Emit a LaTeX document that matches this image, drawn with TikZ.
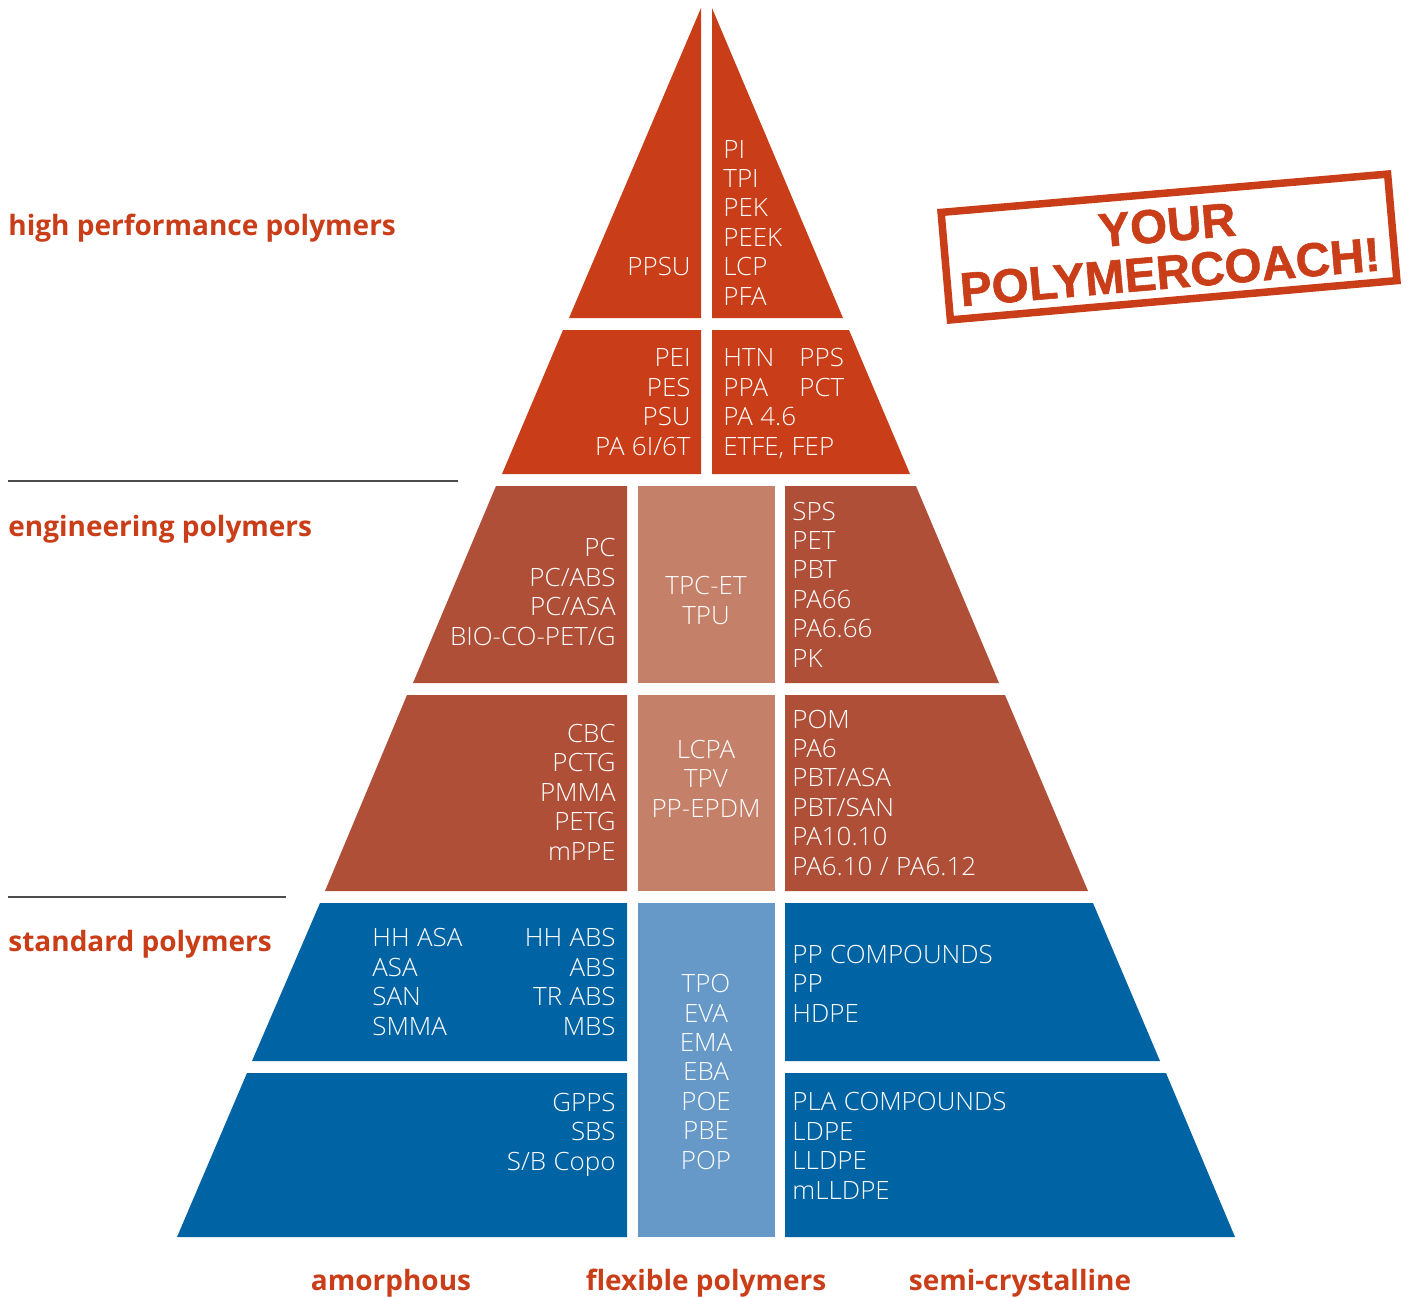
\documentclass[tikz,border=0pt]{standalone}
\usepackage{fontspec}
\setmainfont{Open Sans}
\newfontfamily\lightfont[WordSpace=1.1,FakeStretch=1.03]{Open Sans Light}
\newfontfamily\stampfont[BoldFeatures={FakeBold=1.2}]{Liberation Sans}
\definecolor{hotred}{HTML}{C93D18}
\definecolor{brick}{HTML}{B04F38}
\definecolor{lightbrick}{HTML}{C58069}
\definecolor{deepblue}{HTML}{0063A3}
\definecolor{lightblue}{HTML}{6699C8}
\tikzset{
	lst/.style={inner sep=0pt, text=white, font=\lightfont\fontsize{12.6}{14.68}\selectfont},
	lstL/.style={lst, anchor=base west, align=left},
	lstR/.style={lst, anchor=base east, align=right},
	lstC/.style={lst, anchor=base, align=center},
	grp/.style={inner sep=0pt, text=hotred, font=\fontsize{14}{17}\selectfont\bfseries},
	stamp/.style={text=hotred, rotate=4.9, inner sep=0pt, font=\stampfont\fontsize{23.8}{26}\selectfont\bfseries},
	rule/.style={draw=black!70, line width=0.75pt},
}
\begin{document}
\begin{tikzpicture}[x=0.5pt,y=-0.5pt]
	\useasboundingbox (0,0) rectangle (1413,1297);
	\fill[hotred] (701,8) -- (701,318) -- (569,318) -- cycle;
	\fill[hotred] (712,8) -- (712,318) -- (843,318) -- cycle;
	\fill[hotred] (563,330) -- (701,330) -- (701,474) -- (502,474) -- cycle;
	\fill[hotred] (712,330) -- (849,330) -- (910,474) -- (712,474) -- cycle;
	\fill[brick] (496,486) -- (627,486) -- (627,683) -- (413,683) -- cycle;
	\fill[lightbrick] (638,486) rectangle (775,683);
	\fill[brick] (785,486) -- (916,486) -- (999,683) -- (785,683) -- cycle;
	\fill[brick] (407,695) -- (627,695) -- (627,891) -- (325,891) -- cycle;
	\fill[lightbrick] (638,695) rectangle (775,891);
	\fill[brick] (785,695) -- (1005,695) -- (1088,891) -- (785,891) -- cycle;
	\fill[deepblue] (320,903) -- (627,903) -- (627,1061) -- (252,1061) -- cycle;
	\fill[deepblue] (247,1073) -- (627,1073) -- (627,1237) -- (177,1237) -- cycle;
	\fill[lightblue] (638,903) rectangle (775,1237);
	\fill[deepblue] (785,903) -- (1093,903) -- (1160,1061) -- (785,1061) -- cycle;
	\fill[deepblue] (785,1073) -- (1166,1073) -- (1235,1237) -- (785,1237) -- cycle;
	\coordinate (ruleA) at (8,481);
	\coordinate (ruleAend) at (458,481);
	\coordinate (ruleB) at (8,897);
	\coordinate (ruleBend) at (286,897);
	\draw[rule] (ruleA) -- (ruleAend);
	\draw[rule] (ruleB) -- (ruleBend);
	\node[lstR] (ppsu) at (691,275) {PPSU};
	\node[lstL] (peek) at (723,305) {PI\\TPI\\PEK\\PEEK\\LCP\\PFA};
	\node[lstR] (pei) at (691,455) {PEI\\PES\\PSU\\PA 6I/6T};
	\node[lstL] (htn) at (723,455) {HTN\\PPA\\PA 4.6\\ETFE, FEP};
	\node[lstL] (pps) at (799,396) {PPS\\PCT};
	\node[lstR] (pc) at (616,645) {PC\\PC/ABS\\PC/ASA\\BIO-CO-PET/G};
	\node[lstC] (tpc) at (706,624) {TPC-ET\\TPU};
	\node[lstL] (sps) at (792,667) {SPS\\PET\\PBT\\PA66\\PA6.66\\PK};
	\node[lstR] (cbc) at (616,860) {CBC\\PCTG\\PMMA\\PETG\\mPPE};
	\node[lstC] (lcpa) at (706,817) {LCPA\\TPV\\PP-EPDM};
	\node[lstL] (pom) at (792,875) {POM\\PA6\\PBT/ASA\\PBT/SAN\\PA10.10\\PA6.10 / PA6.12};
	\node[lstL] (asa) at (372,1035) {HH ASA\\ASA\\SAN\\SMMA};
	\node[lstR] (abs) at (616,1035) {HH ABS\\ABS\\TR ABS\\MBS};
	\node[lstC] (tpo) at (706,1169) {TPO\\EVA\\EMA\\EBA\\POE\\PBE\\POP};
	\node[lstL] (hdpe) at (792,1022) {PP COMPOUNDS\\PP\\HDPE};
	\node[lstR] (gpps) at (616,1170) {GPPS\\SBS\\S/B Copo};
	\node[lstL] (ldpe) at (792,1199) {PLA COMPOUNDS\\LDPE\\LLDPE\\mLLDPE};
	\node[grp, anchor=west] (high) at (8,228) {high performance polymers};
	\node[grp, anchor=west] (eng) at (8,529) {engineering polymers};
	\node[grp, anchor=west] (std) at (8,944) {standard polymers};
	\node[grp] (amorph) at (391,1283) {amorphous};
	\node[grp] (flex) at (706,1283) {flexible polymers};
	\node[grp] (semi) at (1020,1283) {semi-crystalline};
	\draw[hotred, line width=3.75pt] (941.1,212.4) -- (1387.6,174.1) -- (1396.9,280.6) -- (950.4,319.9) -- cycle;
	\node[stamp] (your) at (1167,225) {YOUR};
	\node[stamp] (coach) at (1170,272) {POLYMERCOACH!};
\end{tikzpicture}
\end{document}
